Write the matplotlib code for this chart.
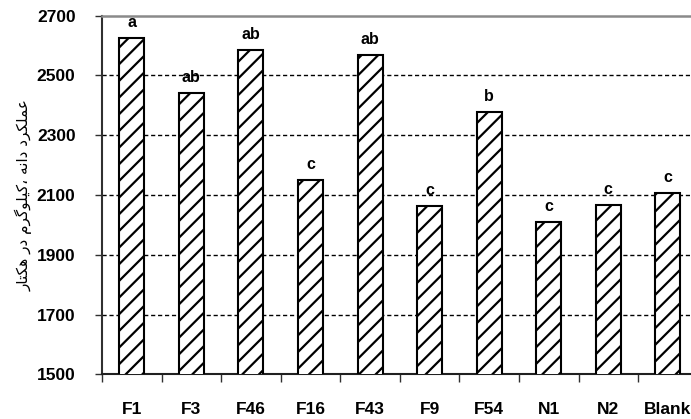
import matplotlib
matplotlib.use("Agg")
import matplotlib.pyplot as plt

# Grain yield (kg/ha) per treatment with significance letters
categories = ["F1", "F3", "F46", "F16", "F43", "F9", "F54", "N1", "N2", "Blank"]
yield_kg_ha = [2626, 2442, 2586, 2151, 2567, 2063, 2377, 2010, 2066, 2106]
letters = ["a", "ab", "ab", "c", "ab", "c", "b", "c", "c", "c"]
yticks = [1500, 1700, 1900, 2100, 2300, 2500, 2700]


def shape_persian(words):
    """Return a visual-order string built from Arabic presentation forms."""
    logical = " ".join(words)
    return logical[::-1]


# Presentation forms for: عملکرد دانه ،کیلوگرم در هکتار
w1 = "\uFECB\uFEE4\uFEE0\uFB91\uFEAE\uFEA9"          # عملکرد
w2 = "\uFEA9\uFE8D\uFEE7\uFEEA"                      # دانه
w3 = "\u060C\uFB90\uFBFF\uFEE0\uFEEE\uFB94\uFEAE\uFEE1"  # ،کیلوگرم
w4 = "\uFEA9\uFEAD"                                  # در
w5 = "\uFEEB\uFB91\uFE98\uFE8E\uFEAD"                # هکتار
ylabel_text = shape_persian([w1, w2, w3, w4, w5])

plt.rcParams["hatch.linewidth"] = 1.6
plt.rcParams["hatch.color"] = "black"

fig = plt.figure(figsize=(6.91, 4.19), dpi=100)
ax = fig.add_axes([0.1476, 0.1067, 0.8620, 0.8558])

x = list(range(len(categories)))
bars = ax.bar(x, yield_kg_ha, width=0.42, facecolor="white", edgecolor="black",
              linewidth=1.5, hatch="//", zorder=3)

for xi, v, lab in zip(x, yield_kg_ha, letters):
    ax.annotate(lab, (xi, v), xytext=(0, 8), textcoords="offset points",
                ha="center", va="baseline", fontsize=11.5, fontweight="bold",
                family="Liberation Sans", zorder=4)

ax.set_xlim(-0.5, 9.5)
ax.set_ylim(1500, 2700)
ax.set_yticks(yticks)
ax.set_yticklabels([str(t) for t in yticks])
ax.set_xticks([i + 0.5 for i in range(-1, 10)], minor=False)
ax.set_xticklabels([])
ax.set_xticks(x, minor=True)
ax.set_xticklabels(categories, minor=True)
ax.tick_params(axis="x", which="minor", length=0, pad=20, labelsize=12.5)
ax.tick_params(axis="x", which="major", length=6, width=1, color="#303030",
               direction="out")
ax.tick_params(axis="y", length=5, width=1, color="#303030", direction="out",
               labelsize=12.5, pad=14)
for lbl in ax.get_xticklabels(minor=True) + ax.get_yticklabels():
    lbl.set_fontweight("bold")
    lbl.set_family("Liberation Sans")

for yv in yticks[1:-1]:
    ax.axhline(yv, color="black", linewidth=1.0, linestyle=(0, (3, 2)), zorder=1)

ax.spines["top"].set_color("#8a8a8a")
ax.spines["top"].set_linewidth(1.8)
ax.spines["left"].set_color("#303030")
ax.spines["left"].set_linewidth(1.5)
ax.spines["bottom"].set_color("#202020")
ax.spines["bottom"].set_linewidth(1.5)
ax.spines["right"].set_visible(False)

fig.text(0.034, 0.535, ylabel_text, rotation=90, ha="center", va="center",
         fontsize=11, family="DejaVu Sans")

fig.savefig("out.png", dpi=100)
